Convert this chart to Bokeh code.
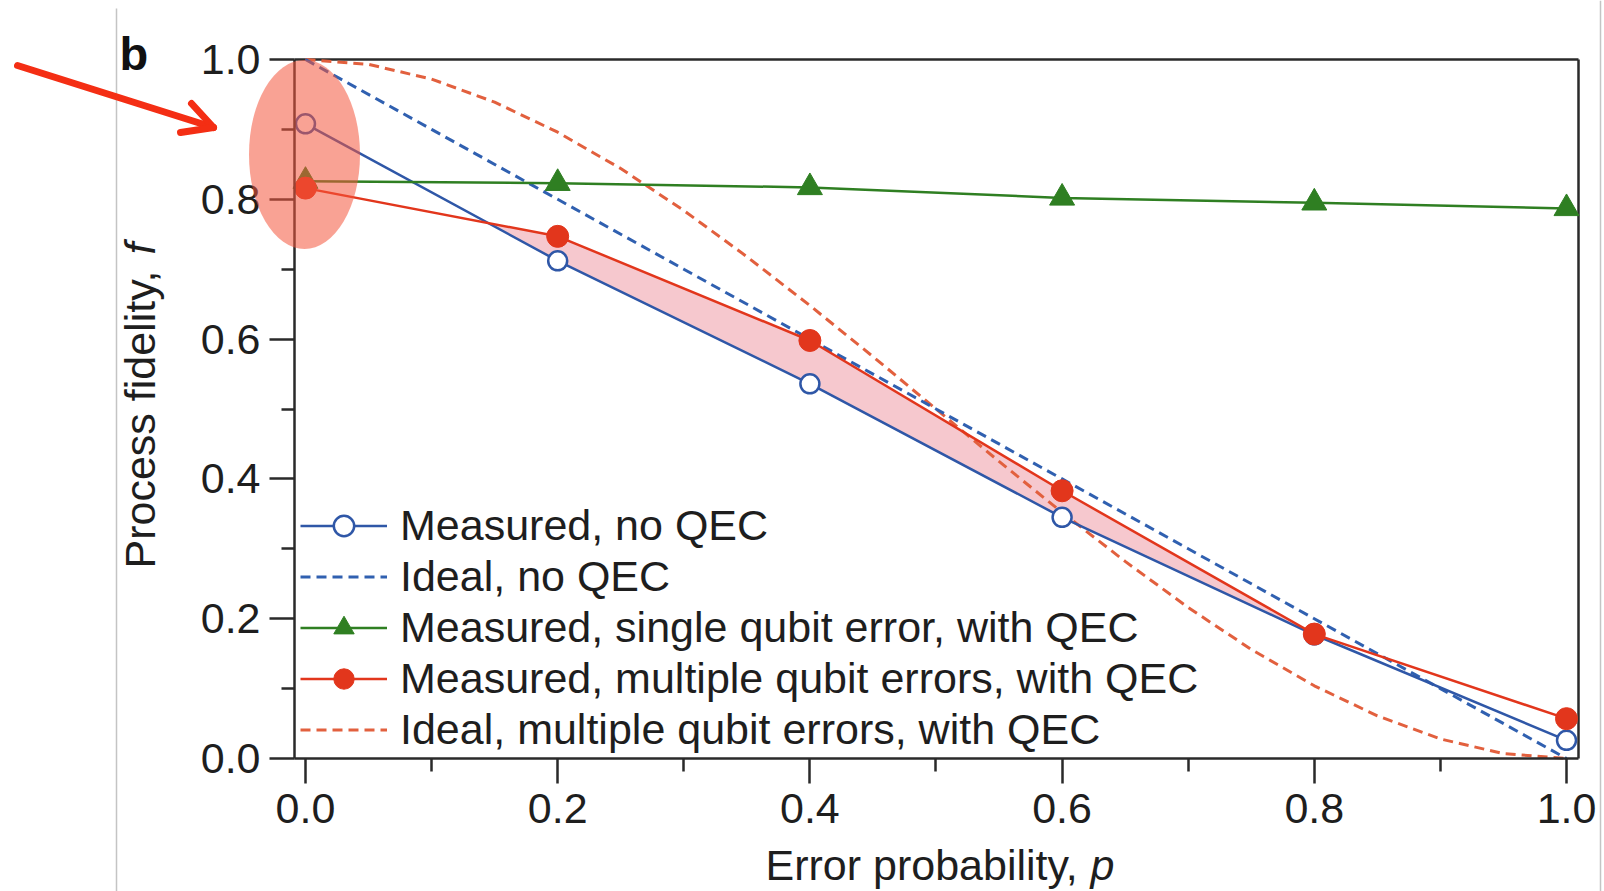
import numpy as np
from bokeh.plotting import figure
from bokeh.models import Range1d, FixedTicker, Legend, LegendItem, Label
from bokeh.embed import file_html
from bokeh.resources import INLINE

# ---------------- data ----------------
p_meas = [0.0, 0.2, 0.4, 0.6, 0.8, 1.0]
f_meas_no_qec = [0.908, 0.712, 0.536, 0.345, 0.177, 0.026]
f_meas_single_qec = [0.826, 0.823, 0.817, 0.802, 0.795, 0.787]
f_meas_multi_qec = [0.816, 0.747, 0.598, 0.383, 0.178, 0.057]

p_ideal_no_qec = [0.0, 0.1, 0.2, 0.3, 0.4, 0.5, 0.6, 0.7, 0.8, 0.9, 1.0]
f_ideal_no_qec = [1.0, 0.9, 0.8, 0.7, 0.6, 0.5, 0.4, 0.3, 0.2, 0.1, 0.0]

p_ideal_multi_qec = [0.0, 0.05, 0.1, 0.15, 0.2, 0.25, 0.3, 0.35, 0.4, 0.45, 0.5,
                     0.55, 0.6, 0.65, 0.7, 0.75, 0.8, 0.85, 0.9, 0.95, 1.0]
f_ideal_multi_qec = [1.0, 0.993, 0.972, 0.939, 0.896, 0.844, 0.784, 0.718, 0.648, 0.575, 0.5,
                     0.425, 0.352, 0.282, 0.216, 0.156, 0.104, 0.061, 0.028, 0.007, 0.0]

x_ticks = [0.0, 0.2, 0.4, 0.6, 0.8, 1.0]
x_minor = [0.1, 0.3, 0.5, 0.7, 0.9]
x_tick_labels = ["0.0", "0.2", "0.4", "0.6", "0.8", "1.0"]
y_ticks = [0.0, 0.2, 0.4, 0.6, 0.8, 1.0]
y_minor = [0.1, 0.3, 0.5, 0.7, 0.9]
y_tick_labels = ["0.0", "0.2", "0.4", "0.6", "0.8", "1.0"]

legend_labels = ["Measured, no QEC", "Ideal, no QEC",
                 "Measured, single qubit error, with QEC",
                 "Measured, multiple qubit errors, with QEC",
                 "Ideal, multiple qubit errors, with QEC"]

# ---------------- styling ----------------
FONT = "Liberation Sans"
BLUE = "#2f57a7"
BLUE_D = "#3060b0"
GREEN = "#2f7f22"
RED = "#e2361c"
RED_D = "#e2603e"
PINK = "#f6c8ce"
AXIS = "#2a2a2a"
TXT = "#1e1e1e"
ARROW_RED = "#f42e14"

W, H = 1604, 891
# pixel box of the axes area (left, right, top, bottom)
BX0, BX1, BY0, BY1 = 294, 1578, 59, 758
X0, X1 = -0.0087, 1.0095   # data x at the box edges
Y0, Y1 = 0.0, 1.0          # data y at the box edges

def dx(px):
    return X0 + (px - BX0) * (X1 - X0) / (BX1 - BX0)

def dy(py):
    return Y1 - (py - BY0) * (Y1 - Y0) / (BY1 - BY0)

# the frame covers the whole canvas; the axes are drawn at fixed locations
fig = figure(width=W, height=H, x_range=Range1d(dx(0), dx(W)), y_range=Range1d(dy(H), dy(0)),
             output_backend="svg", toolbar_location=None, min_border=0,
             min_border_left=0, min_border_right=0, min_border_top=0, min_border_bottom=0)
fig.title.visible = False
fig.xgrid.visible = False
fig.ygrid.visible = False
fig.outline_line_color = None
fig.background_fill_color = "white"
fig.border_fill_color = "white"

fig.xaxis.ticker = FixedTicker(ticks=x_ticks, minor_ticks=x_minor)
fig.yaxis.ticker = FixedTicker(ticks=y_ticks, minor_ticks=y_minor)
fig.xaxis.major_label_overrides = {t: s for t, s in zip(x_ticks, x_tick_labels)}
fig.yaxis.major_label_overrides = {t: s for t, s in zip(y_ticks, y_tick_labels)}
fig.xaxis.fixed_location = Y0
fig.yaxis.fixed_location = X0
fig.xaxis.bounds = (X0, X1)
fig.yaxis.bounds = (Y0, Y1)
for ax in (fig.xaxis[0], fig.yaxis[0]):
    ax.axis_line_color = AXIS
    ax.axis_line_width = 2.5
    ax.major_tick_line_color = AXIS
    ax.major_tick_line_width = 2.5
    ax.major_tick_in = 0
    ax.major_tick_out = 25
    ax.minor_tick_line_color = AXIS
    ax.minor_tick_line_width = 2.5
    ax.minor_tick_in = 0
    ax.minor_tick_out = 13
    ax.major_label_text_font = FONT
    ax.major_label_text_font_size = "43px"
    ax.major_label_text_color = TXT
fig.yaxis.major_label_standoff = 9
fig.xaxis.major_label_standoff = 10

# top and right sides of the axes box
fig.segment(x0=[X0, X1], y0=[Y1, Y0], x1=[X1, X1], y1=[Y1, Y1],
            line_color=AXIS, line_width=2.5)

# ---------------- shaded region between measured curves ----------------
d0 = f_meas_multi_qec[0] - f_meas_no_qec[0]
d1 = f_meas_multi_qec[1] - f_meas_no_qec[1]
t = d0 / (d0 - d1)
pc = p_meas[0] + t * (p_meas[1] - p_meas[0])
fc = f_meas_no_qec[0] + t * (f_meas_no_qec[1] - f_meas_no_qec[0])
fill_x = [pc] + p_meas[1:5] + p_meas[4:0:-1] + [pc]
fill_y = [fc] + f_meas_multi_qec[1:5] + f_meas_no_qec[4:0:-1] + [fc]
fig.patch(fill_x, fill_y, fill_color=PINK, line_color=None)

# ---------------- ideal curves ----------------
r_ideal_multi = fig.line(p_ideal_multi_qec, f_ideal_multi_qec, line_color=RED_D,
                         line_width=3, line_dash="10 6")
r_ideal_no = fig.line(p_ideal_no_qec, f_ideal_no_qec, line_color=BLUE_D,
                      line_width=3, line_dash="10 6")

# ---------------- measured curves ----------------
r_no_l = fig.line(p_meas, f_meas_no_qec, line_color=BLUE, line_width=2.5)
r_no_m = fig.scatter(p_meas, f_meas_no_qec, marker="circle", size=19,
                     fill_color="white", line_color=BLUE, line_width=2.5)
r_sg_l = fig.line(p_meas, f_meas_single_qec, line_color=GREEN, line_width=2.5)
r_sg_m = fig.scatter(p_meas, f_meas_single_qec, marker="triangle", size=25,
                     fill_color=GREEN, line_color=GREEN, line_width=1)
r_mu_l = fig.line(p_meas, f_meas_multi_qec, line_color=RED, line_width=2.5)
r_mu_m = fig.scatter(p_meas, f_meas_multi_qec, marker="circle", size=22,
                     fill_color=RED, line_color=RED, line_width=1)

legend = Legend(items=[
    LegendItem(label=legend_labels[0], renderers=[r_no_l, r_no_m]),
    LegendItem(label=legend_labels[1], renderers=[r_ideal_no]),
    LegendItem(label=legend_labels[2], renderers=[r_sg_l, r_sg_m]),
    LegendItem(label=legend_labels[3], renderers=[r_mu_l, r_mu_m]),
    LegendItem(label=legend_labels[4], renderers=[r_ideal_multi]),
], location=(BX0 + 6, H - BY1 + 3), orientation="vertical", border_line_color=None,
    background_fill_alpha=0, padding=0, margin=0, spacing=0,
    glyph_width=87, glyph_height=51, label_standoff=13, label_height=51,
    label_text_font=FONT, label_text_font_size="43px", label_text_color=TXT)
fig.add_layout(legend)

# ---------------- axis titles and panel letter ----------------
fig.add_layout(Label(x=dx(765), y=dy(864), text="Error probability, ",
                     text_font=FONT, text_font_size="43px", text_color=TXT,
                     text_align="left", text_baseline="alphabetic"))
fig.add_layout(Label(x=dx(1090), y=dy(864), text="p", text_font=FONT,
                     text_font_style="italic", text_font_size="43px", text_color=TXT,
                     text_align="left", text_baseline="alphabetic"))
fig.add_layout(Label(x=dx(139), y=dy(568), text="Process fidelity, ", angle=np.pi / 2,
                     text_font=FONT, text_font_size="43px", text_color=TXT,
                     text_align="left", text_baseline="alphabetic"))
fig.add_layout(Label(x=dx(139), y=dy(254), text="f", angle=np.pi / 2, text_font=FONT,
                     text_font_style="italic", text_font_size="43px", text_color=TXT,
                     text_align="left", text_baseline="alphabetic"))
fig.add_layout(Label(x=dx(119), y=dy(53), text="b", text_font=FONT,
                     text_font_style="bold", text_font_size="47px", text_color="#111111",
                     text_align="left", text_baseline="alphabetic"))

# ---------------- page decorations ----------------
fig.segment(x0=[dx(116), dx(1600)], y0=[dy(8), dy(0)], x1=[dx(116), dx(1600)],
            y1=[dy(H), dy(H)], line_color="#c4c4c4", line_width=1.5)

fig.ellipse(x=[dx(304)], y=[dy(154)], width=111, height=189,
            width_units="screen", height_units="screen",
            fill_color="#f4553d", fill_alpha=0.55, line_color=None, level="annotation")

tip_x, tip_y = 213, 127
fig.segment(x0=[dx(17), dx(tip_x), dx(tip_x)], y0=[dy(65), dy(tip_y), dy(tip_y)],
            x1=[dx(tip_x), dx(191), dx(180)], y1=[dy(tip_y), dy(103), dy(132)],
            line_color=ARROW_RED, line_width=7, line_cap="round")

open("out.html", "w").write(file_html(fig, INLINE))
